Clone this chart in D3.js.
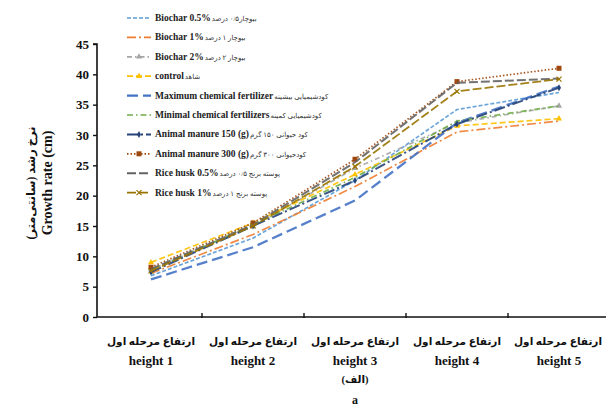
<!DOCTYPE html>
<html>
<head>
<meta charset="utf-8">
<script src="https://cdn.jsdelivr.net/npm/d3@7"></script>
<style>
  html, body { margin: 0; padding: 0; background: #fff; }
  svg { display: block; }
</style>
</head>
<body>
<svg id="chart" width="606" height="414"></svg>
<script>
// Stage labels on the x axis
const stagesFa = ["ارتفاع مرحله اول", "ارتفاع مرحله اول", "ارتفاع مرحله اول", "ارتفاع مرحله اول", "ارتفاع مرحله اول"];
const stagesEn = ["height 1", "height 2", "height 3", "height 4", "height 5"];
const yTicks = [0, 5, 10, 15, 20, 25, 30, 35, 40, 45];

// Treatment names
const namesEn = ["Biochar 0.5%", "Biochar 1%", "Biochar 2%", "control", "Maximum chemical fertilizer",
  "Minimal chemical fertilizers", "Animal manure 150 (g)", "Animal manure 300 (g)", "Rice husk 0.5%", "Rice husk 1%"];
const namesFa = ["بیوچار۰/۵ درصد", "بیوچار ۱ درصد", "بیوچار ۲ درصد", "شاهد", "کودشیمیایی بیشینه",
  "کودشیمیایی کمینه", "کود حیوانی ۱۵۰ گرم", "کودحیوانی ۳۰۰ گرم", "پوسته برنج ۰/۵ درصد", "پوسته برنج ۱ درصد"];

// Growth rate (cm) per treatment at each stage
const biochar05 = [6.8, 13.0, 22.5, 34.2, 37.0];
const biochar1 = [7.2, 13.6, 21.5, 30.5, 32.3];
const biochar2 = [7.8, 15.0, 24.5, 32.0, 34.8];
const control = [9.0, 15.5, 23.5, 31.5, 32.7];
const maxChem = [6.2, 11.5, 19.2, 32.0, 38.0];
const minChem = [7.8, 15.2, 23.0, 32.3, 34.8];
const manure150 = [7.4, 15.0, 22.5, 31.8, 37.8];
const manure300 = [8.2, 15.5, 26.0, 38.8, 41.0];
const riceHusk05 = [7.9, 15.2, 25.5, 38.6, 39.3];
const riceHusk1 = [7.6, 15.0, 24.8, 37.2, 39.2];

const seriesValues = [biochar05, biochar1, biochar2, control, maxChem, minChem, manure150, manure300, riceHusk05, riceHusk1];

// Line styling per treatment
const styles = [
  { color: "#5B9BD5", dash: "4,2", width: 1.7, marker: null },
  { color: "#ED7D31", dash: "9,3,2,3", width: 1.7, marker: null },
  { color: "#A5A5A5", dash: "5,3,1.5,3", width: 1.7, marker: "triangle" },
  { color: "#FFC000", dash: "6,3", width: 1.7, marker: "triangle" },
  { color: "#4472C4", dash: "11,5", width: 2.3, marker: null },
  { color: "#70AD47", dash: "6,3,1.5,3", width: 1.7, marker: null },
  { color: "#264478", dash: "11,3,2,3", width: 2.0, marker: "diamond" },
  { color: "#9E480E", dash: "1.5,2", width: 1.7, marker: "square" },
  { color: "#636363", dash: "9,3", width: 2.0, marker: null },
  { color: "#997300", dash: "9,3", width: 1.8, marker: "cross" }
];

const serif = "'Liberation Serif', 'Times New Roman', 'DejaVu Sans', serif";
const svg = d3.select("#chart");

const x = d3.scaleBand().domain(stagesEn).range([100, 610]);
const y = d3.scaleLinear().domain([0, 45]).range([317, 44]);

// Y axis
const yAxis = svg.append("g").attr("transform", "translate(97,0)")
  .call(d3.axisLeft(y).tickValues(yTicks).tickSize(4).tickPadding(4));
yAxis.select(".domain").attr("stroke", "#111").attr("stroke-width", 1.6).attr("d", `M-4,${y(45)}H0V${y(0)}`);
yAxis.selectAll(".tick line").attr("stroke", "#111").attr("stroke-width", 1.4);
yAxis.selectAll(".tick text").attr("font-family", serif).attr("font-weight", "bold")
  .attr("font-size", 13).attr("fill", "#111");

// X axis line with boundary ticks
const xAxis = svg.append("g").attr("transform", "translate(0,317)")
  .call(d3.axisBottom(x).tickSize(0).tickFormat(""));
xAxis.select(".domain").attr("stroke", "#111").attr("stroke-width", 1.6).attr("d", "M97,0H606");
xAxis.selectAll(".tick").remove();
xAxis.selectAll("line.boundary").data(stagesEn.slice(1)).join("line")
  .attr("class", "boundary")
  .attr("x1", d => x(d)).attr("x2", d => x(d))
  .attr("y1", -4).attr("y2", 1)
  .attr("stroke", "#111").attr("stroke-width", 1.4);

// Category labels
const cat = svg.append("g");
stagesEn.forEach((s, i) => {
  const cx = Math.min(x(s) + x.bandwidth() / 2, 558);
  cat.append("text").attr("x", cx).attr("y", 345).attr("text-anchor", "middle")
    .attr("font-family", serif).attr("font-weight", "bold").attr("font-size", 10.5)
    .attr("direction", "rtl").attr("fill", "#111").text(stagesFa[i]);
  cat.append("text").attr("x", x(s) + x.bandwidth() / 2).attr("y", 365).attr("text-anchor", "middle")
    .attr("font-family", serif).attr("font-weight", "bold").attr("font-size", 13)
    .attr("fill", "#111").text(s);
});
svg.append("text").attr("x", x(stagesEn[2]) + x.bandwidth() / 2).attr("y", 383)
  .attr("text-anchor", "middle").attr("font-family", serif).attr("font-weight", "bold")
  .attr("font-size", 10.5).attr("fill", "#111").text("(الف)");
svg.append("text").attr("x", x(stagesEn[2]) + x.bandwidth() / 2).attr("y", 404)
  .attr("text-anchor", "middle").attr("font-family", serif).attr("font-weight", "bold")
  .attr("font-size", 12).attr("fill", "#111").text("a");

// Y axis title
const yt = svg.append("g").attr("transform", "translate(40,183) rotate(-90)");
yt.append("text").attr("x", 0).attr("y", -5).attr("text-anchor", "middle")
  .attr("font-family", serif).attr("font-weight", "bold").attr("font-size", 11.5)
  .attr("fill", "#111").text("نرخ رشد (سانتی‌متر)");
yt.append("text").attr("x", 0).attr("y", 12).attr("text-anchor", "middle")
  .attr("font-family", serif).attr("font-weight", "bold").attr("font-size", 14)
  .attr("fill", "#111").text("Growth rate (cm)");

// Marker drawing helper
function drawMarker(g, type, color, cx, cy) {
  if (type === "square") {
    g.append("rect").attr("x", cx - 2.5).attr("y", cy - 2.5).attr("width", 5).attr("height", 5).attr("fill", color);
  } else if (type === "triangle") {
    g.append("path").attr("d", d3.symbol(d3.symbolTriangle, 16)()).attr("transform", `translate(${cx},${cy})`).attr("fill", color);
  } else if (type === "diamond") {
    g.append("path").attr("d", d3.symbol(d3.symbolDiamond, 14)()).attr("transform", `translate(${cx},${cy})`).attr("fill", color);
  } else if (type === "cross") {
    g.append("path").attr("d", `M${cx - 2.5},${cy - 2.5}L${cx + 2.5},${cy + 2.5}M${cx - 2.5},${cy + 2.5}L${cx + 2.5},${cy - 2.5}`)
      .attr("stroke", color).attr("stroke-width", 1.2).attr("fill", "none");
  }
}

// Series lines
const line = d3.line().x((d, i) => x(stagesEn[i]) + x.bandwidth() / 2).y(d => y(d));
const lines = svg.append("g");
seriesValues.forEach((vals, k) => {
  const st = styles[k];
  lines.append("path").datum(vals).attr("d", line).attr("fill", "none")
    .attr("stroke", st.color).attr("stroke-width", st.width).attr("stroke-dasharray", st.dash)
    .attr("opacity", 0.9);
  if (st.marker) {
    vals.forEach((v, i) => drawMarker(lines, st.marker, st.color, x(stagesEn[i]) + x.bandwidth() / 2, y(v)));
  }
});

// Legend
const legend = svg.append("g");
namesEn.forEach((n, k) => {
  const st = styles[k];
  const ly = 18 + k * 19.4;
  legend.append("line").attr("x1", 127).attr("x2", 151).attr("y1", ly).attr("y2", ly)
    .attr("stroke", st.color).attr("stroke-width", st.width).attr("stroke-dasharray", st.dash);
  if (st.marker) drawMarker(legend, st.marker, st.color, 139, ly);
  const t = legend.append("text").attr("x", 155).attr("y", ly + 3)
    .attr("font-family", serif).attr("font-weight", "bold").attr("font-size", 9.5)
    .attr("fill", "#222").text(n);
  const w = t.node().getComputedTextLength();
  legend.append("text").attr("x", 155 + w + 1).attr("y", ly + 3)
    .attr("direction", "rtl").attr("text-anchor", "end")
    .attr("font-family", serif).attr("font-size", 7).attr("fill", "#333").text(namesFa[k]);
});
</script>
</body>
</html>
